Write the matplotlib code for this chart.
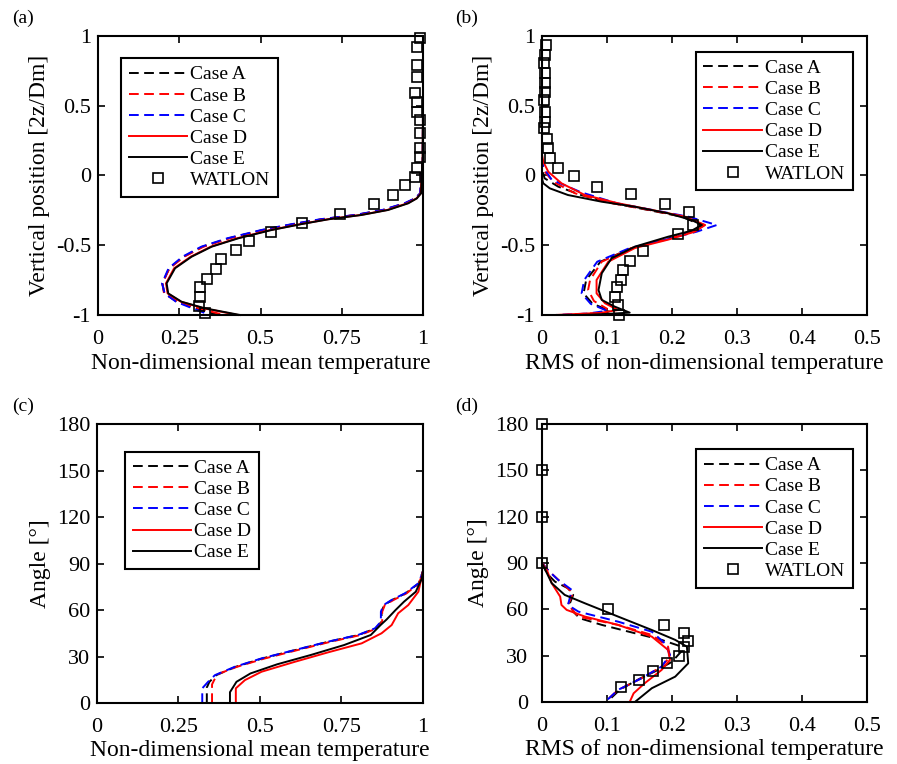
import matplotlib
matplotlib.use("Agg")
import matplotlib.pyplot as plt

plt.rcParams['font.family'] = ['Liberation Serif', 'DejaVu Serif']
plt.rcParams['axes.unicode_minus'] = False

# ---- (a) mean temperature vs vertical position ----
a_y = [1.0, 0.5, 0.1, 0.016, -0.128, -0.164, -0.199, -0.247, -0.283, -0.314, -0.348,
       -0.391, -0.450, -0.510, -0.582, -0.665, -0.773, -0.845, -0.905, -0.952, -1.0]
a_caseA = [1.0, 1.0, 0.999, 0.995, 0.992, 0.976, 0.945, 0.878, 0.793, 0.687, 0.602,
           0.506, 0.402, 0.322, 0.263, 0.219, 0.198, 0.204, 0.243, 0.30, 0.37]
a_caseB = [1.0, 1.0, 0.999, 0.995, 0.992, 0.977, 0.946, 0.880, 0.795, 0.690, 0.605,
           0.510, 0.405, 0.325, 0.265, 0.220, 0.198, 0.203, 0.245, 0.31, 0.387]
a_caseC = [1.0, 1.0, 0.999, 0.995, 0.991, 0.975, 0.943, 0.875, 0.790, 0.683, 0.598,
           0.502, 0.398, 0.318, 0.260, 0.217, 0.197, 0.205, 0.240, 0.290, 0.345]
a_caseD = [1.0, 1.0, 0.999, 0.996, 0.993, 0.980, 0.952, 0.890, 0.808, 0.706, 0.624,
           0.530, 0.428, 0.347, 0.285, 0.234, 0.209, 0.214, 0.255, 0.325, 0.43]
a_caseE = [1.0, 1.0, 0.999, 0.996, 0.994, 0.981, 0.955, 0.893, 0.811, 0.709, 0.627,
           0.534, 0.432, 0.350, 0.288, 0.237, 0.211, 0.216, 0.257, 0.329, 0.437]
a_wat_x = [0.991, 0.981, 0.981, 0.981, 0.975, 0.981, 0.981, 0.991, 0.991, 0.991, 0.991,
           0.981, 0.975, 0.945, 0.909, 0.850, 0.743, 0.629, 0.532, 0.463, 0.424, 0.378,
           0.363, 0.336, 0.314, 0.314, 0.311, 0.329]
a_wat_y = [0.983, 0.923, 0.792, 0.708, 0.589, 0.529, 0.457, 0.398, 0.302, 0.195, 0.135,
           0.052, -0.008, -0.068, -0.140, -0.207, -0.276, -0.338, -0.407, -0.467, -0.534,
           -0.601, -0.673, -0.744, -0.802, -0.869, -0.935, -0.988]

# ---- (b) RMS temperature vs vertical position ----
b_yA = [1.0, 0.05, -0.02, -0.08, -0.14, -0.199, -0.247, -0.295, -0.355, -0.403, -0.46,
        -0.52, -0.618, -0.749, -0.845, -0.92, -0.97, -1.0]
b_xA = [0, 0, 0.004, 0.025, 0.06, 0.11, 0.163, 0.215, 0.245, 0.23, 0.188, 0.138, 0.09,
        0.068, 0.064, 0.078, 0.105, 0.09]
b_yB = [1.0, 0.1, 0.04, -0.044, -0.128, -0.199, -0.247, -0.295, -0.355, -0.403, -0.46,
        -0.52, -0.618, -0.749, -0.82, -0.90, -0.955, -0.985, -1.0]
b_xB = [0, 0, 0.002, 0.017, 0.051, 0.108, 0.165, 0.218, 0.25, 0.232, 0.19, 0.138, 0.092,
        0.074, 0.071, 0.08, 0.10, 0.09, 0.03]
b_yC = [1.0, 0.12, 0.06, -0.03, -0.12, -0.199, -0.247, -0.295, -0.355, -0.403, -0.46,
        -0.52, -0.618, -0.749, -0.845, -0.92, -0.97, -0.99, -1.0]
b_xC = [0, 0, 0.002, 0.015, 0.06, 0.115, 0.17, 0.225, 0.269, 0.238, 0.19, 0.135, 0.085,
        0.065, 0.061, 0.075, 0.10, 0.07, 0.02]
b_yD = [1.0, 0.15, 0.099, 0.027, -0.056, -0.140, -0.199, -0.247, -0.295, -0.355, -0.403,
        -0.46, -0.52, -0.618, -0.749, -0.845, -0.916, -0.964, -0.985, -1.0]
b_xD = [0, 0, 0.002, 0.0097, 0.030, 0.066, 0.117, 0.169, 0.220, 0.251, 0.235, 0.194,
        0.143, 0.102, 0.084, 0.084, 0.097, 0.117, 0.09, 0.02]
b_yE = [1.0, 0.0, -0.03, -0.056, -0.092, -0.140, -0.188, -0.224, -0.271, -0.319, -0.355,
        -0.396, -0.439, -0.510, -0.594, -0.701, -0.821, -0.892, -0.940, -0.983, -0.995, -1.0]
b_xE = [0, 0, 0.0005, 0.002, 0.012, 0.040, 0.092, 0.143, 0.194, 0.230, 0.246, 0.230,
        0.194, 0.143, 0.107, 0.092, 0.087, 0.092, 0.112, 0.135, 0.09, 0.06]
b_wat_x = [0.0057, 0.0046, 0.0036, 0.0046, 0.0046, 0.0046, 0.0036, 0.0046, 0.0046,
           0.0036, 0.0072, 0.0097, 0.0123, 0.025, 0.049, 0.084, 0.137, 0.190, 0.226,
           0.233, 0.210, 0.156, 0.135, 0.125, 0.122, 0.115, 0.112, 0.117, 0.118]
b_wat_y = [0.935, 0.864, 0.804, 0.733, 0.661, 0.601, 0.541, 0.457, 0.386, 0.338, 0.259,
           0.195, 0.123, 0.052, -0.004, -0.080, -0.135, -0.202, -0.264, -0.355, -0.419,
           -0.539, -0.613, -0.677, -0.749, -0.802, -0.869, -0.928, -1.0]

# ---- (c) mean temperature vs angle ----
c_xA = [0.337, 0.337, 0.345, 0.366, 0.426, 0.508, 0.609, 0.711, 0.803, 0.855, 0.873,
        0.873, 0.881, 0.906, 0.947, 0.987, 0.996, 1.0]
c_yA = [0, 10, 13.7, 18, 23.4, 28.8, 34.2, 39.6, 43.9, 48.2, 52.5, 58.9, 63.2, 66.5,
        70.8, 77.2, 82.6, 85]
c_xB = [0.353, 0.353, 0.36, 0.375, 0.43, 0.512, 0.612, 0.714, 0.805, 0.857, 0.875, 0.875,
        0.883, 0.91, 0.95, 0.988, 0.997, 1.0]
c_yB = [0, 12, 15, 19, 23.4, 28.6, 34, 39.4, 43.7, 48, 52.5, 58.9, 63.2, 66.5, 70.8,
        77.2, 82.6, 85]
c_xC = [0.323, 0.323, 0.341, 0.362, 0.423, 0.505, 0.607, 0.709, 0.801, 0.853, 0.871,
        0.871, 0.879, 0.904, 0.945, 0.986, 0.996, 1.0]
c_yC = [0, 9.5, 13.7, 18, 23.4, 28.8, 34.2, 39.6, 43.9, 48.2, 52.5, 58.9, 63.2, 66.5,
        70.8, 77.2, 82.6, 85]
c_xD = [0.426, 0.426, 0.454, 0.505, 0.607, 0.709, 0.812, 0.873, 0.904, 0.924, 0.955,
        0.986, 1.0]
c_yD = [0, 9.5, 14.8, 20.2, 26.6, 32.7, 38.5, 45, 50.3, 57.9, 63.2, 71.8, 85]
c_xE = [0.408, 0.408, 0.428, 0.471, 0.553, 0.656, 0.758, 0.840, 0.870, 0.889, 0.916,
        0.942, 0.978, 0.996, 1.0]
c_yE = [0, 7, 13.7, 19.1, 25, 31, 37.4, 43.9, 50.3, 54, 60, 65.4, 71.8, 80, 85]

# ---- (d) RMS temperature vs angle ----
d_xA = [0, 0.008, 0.020, 0.040, 0.048, 0.043, 0.048, 0.058, 0.092, 0.143, 0.184, 0.21,
        0.215, 0.20, 0.175, 0.15, 0.12, 0.10]
d_yA = [90, 83, 77.9, 73.6, 69.3, 63.9, 58.5, 54.2, 49.9, 44.5, 40.2, 36.5, 33, 26, 20,
        15, 8, 0]
d_xB = [0, 0.01, 0.028, 0.048, 0.040, 0.056, 0.117, 0.169, 0.194, 0.197, 0.184, 0.153,
        0.117, 0.097]
d_yB = [90, 85, 78, 70.4, 63, 55.3, 49.9, 43.4, 35.8, 29.3, 22.9, 15.3, 7.8, 0]
d_xC = [0, 0.01, 0.025, 0.046, 0.040, 0.056, 0.117, 0.169, 0.189, 0.197, 0.184, 0.153,
        0.117, 0.097]
d_yC = [90, 85, 79, 72.5, 62.8, 58.5, 52, 45.5, 38, 30.4, 22.9, 15.3, 7.8, 0]
d_xD = [0, 0.008, 0.015, 0.028, 0.030, 0.038, 0.066, 0.117, 0.169, 0.194, 0.197, 0.184,
        0.158, 0.141, 0.135]
d_yD = [90, 85, 76.9, 68.2, 62.8, 59.6, 55.3, 49.9, 42.3, 33.7, 27.2, 20.7, 12.1, 5.6, 0]
d_xE = [0, 0.015, 0.035, 0.066, 0.117, 0.169, 0.205, 0.223, 0.225, 0.205, 0.169, 0.143]
d_yE = [90, 76.9, 69.3, 63.9, 55.3, 46.6, 40.2, 35.8, 25, 16.4, 8.9, 0]
d_wat_x = [0.0, 0.0, 0.0, 0.0, 0.102, 0.188, 0.218, 0.225, 0.219, 0.211, 0.192, 0.171,
           0.149, 0.122]
d_wat_y = [180, 150, 120, 90, 60.2, 50.1, 44.7, 39.7, 35.4, 30, 25.1, 19.9, 14.5, 9.5]

case_labels = ['Case A', 'Case B', 'Case C', 'Case D', 'Case E']
DASH = (0, (5, 2.8))
case_styles = [('k', DASH), ('r', DASH), ('#0000ff', DASH), ('r', '-'), ('k', '-')]

LW = 1.4
FS_TICK = 16
FS_LAB = 17
FS_LEG = 14


def style_axes(ax):
    for s in ax.spines.values():
        s.set_linewidth(1.5)
    ax.tick_params(direction='in', top=True, right=True, length=5, width=1.2,
                   labelsize=FS_TICK)
    ax.tick_params(axis='x', pad=11)
    ax.tick_params(axis='y', pad=5)


def add_legend(ax, loc, anchor):
    leg = ax.legend(loc=loc, bbox_to_anchor=anchor, fontsize=FS_LEG, frameon=True,
                    fancybox=False, edgecolor='k', framealpha=1, borderaxespad=0,
                    handlelength=3.0, handletextpad=0.15, labelspacing=0.18,
                    borderpad=0.4)
    leg.get_frame().set_linewidth(1.5)


fig = plt.figure(figsize=(8.97, 7.64), dpi=100)
ax_a = fig.add_axes([0.1093, 0.5877, 0.3623, 0.3652])
ax_b = fig.add_axes([0.6042, 0.5877, 0.3623, 0.3652])
ax_c = fig.add_axes([0.1081, 0.0798, 0.3634, 0.3652])
ax_d = fig.add_axes([0.6042, 0.0812, 0.3623, 0.3639])

# (a)
for xs, (c, ls), lab in zip([a_caseA, a_caseB, a_caseC, a_caseD, a_caseE], case_styles, case_labels):
    ax_a.plot(xs, a_y, color=c, ls=ls, lw=LW, label=lab)
ax_a.plot(a_wat_x, a_wat_y, 's', mfc='none', mec='k', ms=7.5, mew=1.2, label='WATLON')
ax_a.set_xlim(0, 1)
ax_a.set_ylim(-1, 1)
ax_a.set_xticks([0, 0.25, 0.5, 0.75, 1])
ax_a.set_xticklabels(['0', '0.25', '0.5', '0.75', '1'])
ax_a.set_yticks([-1, -0.5, 0, 0.5, 1])
ax_a.set_yticklabels(['-1', '-0.5', '0', '0.5', '1'])
ax_a.set_xlabel('Non-dimensional mean temperature', fontsize=FS_LAB, labelpad=3)
ax_a.set_ylabel('Vertical position [2z/Dm]', fontsize=FS_LAB, labelpad=4)
style_axes(ax_a)
add_legend(ax_a, 'upper left', (0.07, 0.921))

# (b)
b_sets = [(b_xA, b_yA), (b_xB, b_yB), (b_xC, b_yC), (b_xD, b_yD), (b_xE, b_yE)]
for (xs, ys), (c, ls), lab in zip(b_sets, case_styles, case_labels):
    ax_b.plot(xs, ys, color=c, ls=ls, lw=LW, label=lab)
ax_b.plot(b_wat_x, b_wat_y, 's', mfc='none', mec='k', ms=7.5, mew=1.2, label='WATLON')
ax_b.set_xlim(0, 0.5)
ax_b.set_ylim(-1, 1)
ax_b.set_xticks([0, 0.1, 0.2, 0.3, 0.4, 0.5])
ax_b.set_xticklabels(['0', '0.1', '0.2', '0.3', '0.4', '0.5'])
ax_b.set_yticks([-1, -0.5, 0, 0.5, 1])
ax_b.set_yticklabels(['-1', '-0.5', '0', '0.5', '1'])
ax_b.set_xlabel('RMS of non-dimensional temperature', fontsize=FS_LAB, labelpad=3)
ax_b.set_ylabel('Vertical position [2z/Dm]', fontsize=FS_LAB, labelpad=4)
style_axes(ax_b)
add_legend(ax_b, 'upper right', (0.956, 0.944))

# (c)
c_sets = [(c_xA, c_yA), (c_xB, c_yB), (c_xC, c_yC), (c_xD, c_yD), (c_xE, c_yE)]
for (xs, ys), (c, ls), lab in zip(c_sets, case_styles, case_labels):
    ax_c.plot(xs, ys, color=c, ls=ls, lw=LW, label=lab)
ax_c.set_xlim(0, 1)
ax_c.set_ylim(0, 180)
ax_c.set_xticks([0, 0.25, 0.5, 0.75, 1])
ax_c.set_xticklabels(['0', '0.25', '0.5', '0.75', '1'])
ax_c.set_yticks([0, 30, 60, 90, 120, 150, 180])
ax_c.set_xlabel('Non-dimensional mean temperature', fontsize=FS_LAB, labelpad=2)
ax_c.set_ylabel('Angle [°]', fontsize=FS_LAB, labelpad=4)
style_axes(ax_c)
add_legend(ax_c, 'upper left', (0.086, 0.901))

# (d)
d_sets = [(d_xA, d_yA), (d_xB, d_yB), (d_xC, d_yC), (d_xD, d_yD), (d_xE, d_yE)]
for (xs, ys), (c, ls), lab in zip(d_sets, case_styles, case_labels):
    ax_d.plot(xs, ys, color=c, ls=ls, lw=LW, label=lab)
ax_d.plot(d_wat_x, d_wat_y, 's', mfc='none', mec='k', ms=7.5, mew=1.2, label='WATLON',
          clip_on=False)
ax_d.set_xlim(0, 0.5)
ax_d.set_ylim(0, 180)
ax_d.set_xticks([0, 0.1, 0.2, 0.3, 0.4, 0.5])
ax_d.set_xticklabels(['0', '0.1', '0.2', '0.3', '0.4', '0.5'])
ax_d.set_yticks([0, 30, 60, 90, 120, 150, 180])
ax_d.set_xlabel('RMS of non-dimensional temperature', fontsize=FS_LAB, labelpad=2)
ax_d.set_ylabel('Angle [°]', fontsize=FS_LAB, labelpad=4)
style_axes(ax_d)
ax_d.tick_params(axis='y', pad=10)
add_legend(ax_d, 'upper right', (0.957, 0.91))

for ax in (ax_a, ax_b):
    for ln in ax.lines:
        ln.set_clip_on(False)

fig.text(12 / 897, 1 - 18 / 764, '(a)', fontsize=14, va='center', ha='left')
fig.text(455 / 897, 1 - 18 / 764, '(b)', fontsize=14, va='center', ha='left')
fig.text(12 / 897, 1 - 406 / 764, '(c)', fontsize=14, va='center', ha='left')
fig.text(455 / 897, 1 - 406 / 764, '(d)', fontsize=14, va='center', ha='left')

fig.savefig('out.png', dpi=100)
